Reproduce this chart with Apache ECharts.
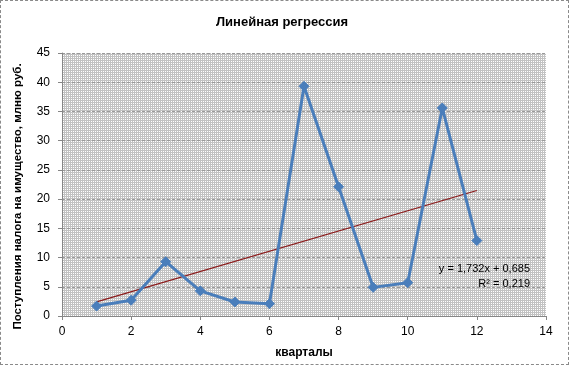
<!DOCTYPE html>
<html><head><meta charset="utf-8">
<script src="https://cdn.jsdelivr.net/npm/echarts@6/dist/echarts.min.js"></script>
<style>
html,body{margin:0;padding:0;background:#fff;}
#c{width:569px;height:365px;box-sizing:border-box;border:1px dashed #8a8a8a;}
</style></head>
<body><div id="c"></div>
<script>
const quarters = [1,2,3,4,5,6,7,8,9,10,11,12];
const revenue = [1.7,2.7,9.3,4.3,2.4,2.1,39.3,22.1,4.9,5.7,35.6,12.9];
const trendX = [1,12];
const trendY = [2.42,21.47];
const xTicks = {min:0,max:14,interval:2};
const yTicks = {min:0,max:45,interval:5};
const titleText = 'Линейная регрессия';
const yName = 'Поступления налога на имущество, млню руб.';
const xName = 'кварталы';
const eqLines = ['y = 1,732x + 0,685','R² = 0,219'];

const cv = document.createElement('canvas');
cv.width = 2; cv.height = 2;
const cx = cv.getContext('2d');
cx.fillStyle = '#c2c2c2'; cx.fillRect(0,0,2,2);
cx.fillStyle = '#ffffff'; cx.fillRect(0,0,1,1);

const chart = echarts.init(document.getElementById('c'), null, {renderer:'canvas'});
const font = '"Liberation Sans", Arial, sans-serif';
chart.setOption({
  animation:false,
  textStyle:{fontFamily:font},
  title:{text:titleText,left:276,top:10,textAlign:'center',
    textStyle:{fontSize:13,fontWeight:'bold',color:'#000',fontFamily:font}},
  grid:{left:61,right:22,top:52,bottom:47,show:true,
    backgroundColor:{image:cv,repeat:'repeat'},borderWidth:0},
  xAxis:{type:'value',min:xTicks.min,max:xTicks.max,interval:xTicks.interval,
    name:xName,nameLocation:'middle',nameGap:31,
    nameTextStyle:{fontSize:12,fontWeight:'bold',color:'#000'},
    axisLine:{show:true,lineStyle:{color:'#868686'}},
    axisTick:{show:true,length:4,inside:false,lineStyle:{color:'#868686'}},
    axisLabel:{fontSize:12,color:'#000',margin:10},
    splitLine:{show:false}},
  yAxis:{type:'value',min:yTicks.min,max:yTicks.max,interval:yTicks.interval,
    name:yName,nameLocation:'middle',nameGap:38,nameRotate:90,
    nameTextStyle:{fontSize:11.5,fontWeight:'bold',color:'#000',padding:[0,0,0,-24]},
    axisLine:{show:true,lineStyle:{color:'#868686'}},
    axisTick:{show:true,length:4,lineStyle:{color:'#868686'}},
    axisLabel:{fontSize:12,color:'#000',margin:12},
    splitLine:{show:true,lineStyle:{color:'#9a9a9a',type:[3,2],width:1}}},
  series:[
    {type:'line',data:trendX.map((x,i)=>[x,trendY[i]]),symbol:'none',
      lineStyle:{color:'#8b1a1a',width:1.2},z:3,silent:true},
    {type:'line',data:quarters.map((q,i)=>[q,revenue[i]]),
      symbol:'diamond',symbolSize:10,
      lineStyle:{color:'#4a7ebb',width:3},
      itemStyle:{color:'#4a7ebb',borderColor:'#4a7ebb'},z:4}
  ],
  graphic:[
    {type:'text',right:38,top:262,style:{text:eqLines[0],fontSize:11,fill:'#000',fontFamily:font,textAlign:'right'}},
    {type:'text',right:38,top:277,style:{text:eqLines[1],fontSize:11,fill:'#000',fontFamily:font,textAlign:'right'}}
  ]
});
</script></body></html>
